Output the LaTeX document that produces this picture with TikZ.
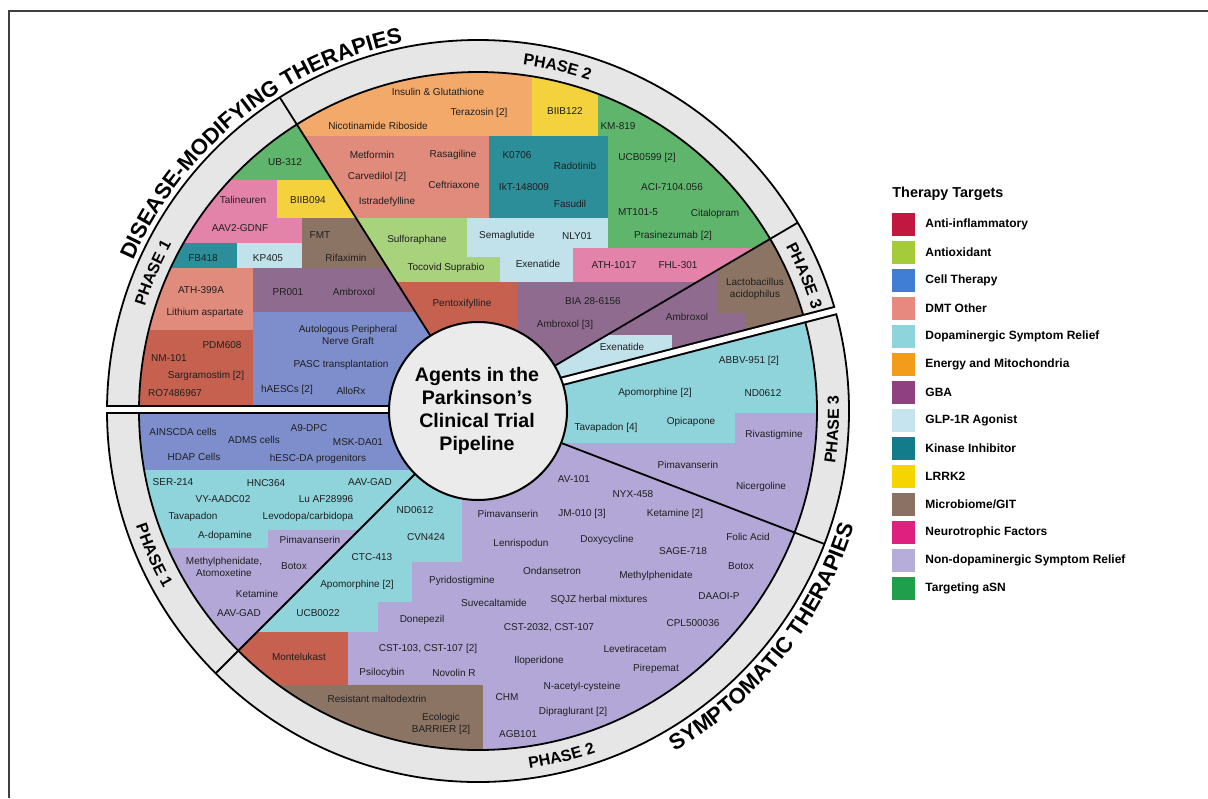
\documentclass[tikz,border=0pt]{standalone}
\usepackage{fontspec}
\setmainfont{Liberation Sans}
\usetikzlibrary{decorations.text}
\definecolor{cOrange}{HTML}{F2A96A}
\definecolor{cYellow}{HTML}{F3D23D}
\definecolor{cGreen}{HTML}{5EB56B}
\definecolor{cSalmon}{HTML}{E08B7C}
\definecolor{cTeal}{HTML}{2C8E99}
\definecolor{cLGreen}{HTML}{A9D27D}
\definecolor{cLBlue}{HTML}{C1E2EB}
\definecolor{cPink}{HTML}{E483AA}
\definecolor{cRed}{HTML}{C6614F}
\definecolor{cMauve}{HTML}{8F6C8F}
\definecolor{cBrown}{HTML}{8C7464}
\definecolor{cPeri}{HTML}{7E8ECC}
\definecolor{cCyan}{HTML}{8FD4DB}
\definecolor{cLav}{HTML}{B2A7D6}
\definecolor{cBand}{HTML}{E6E6E6}
\definecolor{cInner}{HTML}{EBEBEB}
\definecolor{lRed}{HTML}{C2183F}
\definecolor{lAntiox}{HTML}{A3CB3A}
\definecolor{lCell}{HTML}{3F7ED4}
\definecolor{lDMT}{HTML}{E8897F}
\definecolor{lDopa}{HTML}{8DD4DD}
\definecolor{lEnergy}{HTML}{F39C1C}
\definecolor{lGBA}{HTML}{8E4081}
\definecolor{lGLP}{HTML}{C5E4ED}
\definecolor{lKinase}{HTML}{127C8B}
\definecolor{lLRRK}{HTML}{F5D400}
\definecolor{lMicro}{HTML}{8B7163}
\definecolor{lNeuro}{HTML}{E0207F}
\definecolor{lNonDopa}{HTML}{B7ADDA}
\definecolor{lASN}{HTML}{1F9E4B}
\tikzset{
  lbl/.style={font=\fontsize{5}{6}\selectfont, inner sep=0pt, align=center, text=black!88},
  ln/.style={line width=0.9pt, black},
  leg/.style={font=\fontsize{6}{7}\selectfont\bfseries, anchor=west, inner sep=0pt},
  legbox/.style={minimum width=11.5pt, minimum height=11.5pt, inner sep=0pt, draw=none},
  phasetxt/.style={decorate, decoration={text along path, text align=center,
      text={|\fontsize{8}{9}\selectfont\bfseries|#1}}},
  bigtxt/.style={decorate, decoration={text along path, text align=center,
      text={|\fontsize{11}{13}\selectfont\bfseries|#1}}}
}
\begin{document}
\begin{tikzpicture}[x=0.5pt,y=-0.5pt]
\useasboundingbox (0,0) rectangle (1208,798);
% frame
\draw[line width=0.6pt, black!75] (9,798) -- (9,11) -- (1208,11);

\begin{scope}[shift={(478,411)}]
  \fill[cBand] (0,0) circle[radius=371];
  \begin{scope}
    \clip (0,0) circle[radius=339];
    % ---------- upper phase 1
    \begin{scope}
      \clip (0,-1) -- (-700,-1) -- (-700,-700) -- (-122.3:700) -- (0,0) -- cycle;
      \begin{scope}[shift={(-478,-411)}]
        \fill[cGreen] (80,0) rectangle (420,180);
        \fill[cPink] (80,180) rectangle (277,243);
        \fill[cPink] (277,218) rectangle (302,243);
        \fill[cYellow] (277,180) rectangle (420,218);
        \fill[cBrown] (302,218) rectangle (420,268);
        \fill[cTeal] (80,243) rectangle (237,268);
        \fill[cLBlue] (237,243) rectangle (302,268);
        \fill[cSalmon] (80,268) rectangle (253,330);
        \fill[cMauve] (253,268) rectangle (480,312);
        \fill[cPeri] (253,312) rectangle (480,420);
        \fill[cRed] (80,330) rectangle (253,420);
      \end{scope}
    \end{scope}
    % ---------- upper phase 2
    \begin{scope}
      \clip (0,0) -- (-122.3:700) -- (-374,-700) -- (700,-700) -- (-30.5:700) -- cycle;
      \begin{scope}[shift={(-478,-411)}]
        \fill[cMauve] (280,0) rectangle (860,420);
        \fill[cOrange] (280,0) rectangle (532,136);
        \fill[cYellow] (532,0) rectangle (598,136);
        \fill[cGreen] (598,0) rectangle (860,248);
        \fill[cSalmon] (280,136) rectangle (489,218);
        \fill[cTeal] (489,136) rectangle (608,218);
        \fill[cLGreen] (280,218) rectangle (467,257);
        \fill[cLGreen] (280,257) rectangle (500,282);
        \fill[cLBlue] (467,218) rectangle (608,248);
        \fill[cLBlue] (467,248) rectangle (573,257);
        \fill[cLBlue] (500,257) rectangle (573,282);
        \fill[cPink] (573,248) rectangle (860,282);
        \fill[cRed] (280,282) rectangle (518,420);
      \end{scope}
    \end{scope}
    % ---------- upper phase 3
    \begin{scope}
      \clip (0,0) -- (-30.5:700) -- (697,-188.3) -- (0,-8) -- cycle;
      \begin{scope}[shift={(-478,-411)}]
        \fill[cMauve] (480,200) rectangle (860,420);
        \fill[cBrown] (717,240) rectangle (860,313);
        \fill[cBrown] (745,313) rectangle (860,360);
        \fill[cLBlue] (540,335) rectangle (672,400);
      \end{scope}
    \end{scope}
    % ---------- lower phase 1
    \begin{scope}
      \clip (0,-1) -- (-700,-1) -- (-700,700) -- (135:700) -- (0,0) -- cycle;
      \begin{scope}[shift={(-478,-411)}]
        \fill[cLav] (80,400) rectangle (480,800);
        \fill[cPeri] (80,400) rectangle (480,470);
        \fill[cCyan] (80,470) rectangle (480,530);
        \fill[cCyan] (80,530) rectangle (268,548);
      \end{scope}
    \end{scope}
    % ---------- lower phase 2
    \begin{scope}
      \clip (0,0) -- (135:700) -- (0,700) -- (21:700) -- cycle;
      \begin{scope}[shift={(-478,-411)}]
        \fill[cLav] (80,400) rectangle (860,800);
        \fill[cCyan] (200,400) rectangle (462,562);
        \fill[cCyan] (200,562) rectangle (412,602);
        \fill[cCyan] (200,602) rectangle (378,632);
        \fill[cRed] (150,632) rectangle (348,685);
        \fill[cBrown] (150,685) rectangle (483,800);
      \end{scope}
    \end{scope}
    % ---------- lower phase 3
    \begin{scope}
      \clip (0,-8) -- (697,-188.3) -- (21:700) -- (0,0) -- cycle;
      \begin{scope}[shift={(-478,-411)}]
        \fill[cLav] (480,300) rectangle (860,800);
        \fill[cCyan] (480,300) rectangle (860,413);
        \fill[cCyan] (480,413) rectangle (735,443);
      \end{scope}
    \end{scope}
  \end{scope}
  % ring outlines
  \draw[ln] (0,0) circle[radius=339];
  \draw[ln] (0,0) circle[radius=371];
  % phase dividers
  \draw[ln] (-122.3:89) -- (-122.3:371);
  \draw[ln] (-30.5:89) -- (-30.5:371);
  \draw[ln] (135:89) -- (135:371);
  \draw[ln] (21:89) -- (21:371);
  % gaps between the two halves
  \draw[line width=4.75pt, black] (-80,-1.3) -- (-371,-1.3);
  \draw[line width=2.75pt, white] (-80,-1.3) -- (-385,-1.3);
  \draw[line width=4.75pt, black] (0,-8) -- ++(-14.5:368.9);
  \draw[line width=2.75pt, white] (0,-8) -- ++(-14.5:385);
  % centre
  \draw[line width=1pt, fill=cInner] (0,0) circle[radius=89];
  % ring labels
  \path[phasetxt={PHASE 2}] (-97:349) arc[start angle=-97, end angle=-57, radius=349];
  \path[phasetxt={PHASE 1}] (-177:349) arc[start angle=-177, end angle=-137, radius=349];
  \path[phasetxt={PHASE 3}] (-42.5:349) arc[start angle=-42.5, end angle=-2.5, radius=349];
  \path[phasetxt={PHASE 3}] (23:361) arc[start angle=23, end angle=-17, radius=361];
  \path[phasetxt={PHASE 2}] (96.4:361) arc[start angle=96.4, end angle=56.4, radius=361];
  \path[phasetxt={PHASE 1}] (176:361) arc[start angle=176, end angle=136, radius=361];
  \path[bigtxt={DISEASE-MODIFYING THERAPIES}] (-169:376) arc[start angle=-169, end angle=-89, radius=376];
  \path[bigtxt={SYMPTOMATIC THERAPIES}] (78.5:393) arc[start angle=78.5, end angle=-1.5, radius=393];
\end{scope}

\node[font=\fontsize{9.8}{11.5}\selectfont\bfseries, align=center, inner sep=0pt] (ctitle) at (477,411) {Agents in the\\Parkinson’s\\Clinical Trial\\Pipeline};

% ---------- upper phase 2 labels
\node[lbl] (u2a) at (438,92) {Insulin \& Glutathione};
\node[lbl] (u2b) at (479,113) {Terazosin [2]};
\node[lbl] (u2c) at (378,126) {Nicotinamide Riboside};
\node[lbl] (u2d) at (565,111) {BIIB122};
\node[lbl] (u2e) at (618,126) {KM-819};
\node[lbl] (u2f) at (372,155) {Metformin};
\node[lbl] (u2g) at (453,155) {Rasagiline};
\node[lbl] (u2h) at (377,177) {Carvedilol [2]};
\node[lbl] (u2i) at (454,185) {Ceftriaxone};
\node[lbl] (u2j) at (387,202) {Istradefylline};
\node[lbl] (u2k) at (517,155) {K0706};
\node[lbl] (u2l) at (575,166) {Radotinib};
\node[lbl] (u2m) at (524,187) {IkT-148009};
\node[lbl] (u2n) at (570,204) {Fasudil};
\node[lbl] (u2o) at (647,158) {UCB0599 [2]};
\node[lbl] (u2p) at (672,187) {ACI-7104.056};
\node[lbl] (u2q) at (638,212) {MT101-5};
\node[lbl] (u2r) at (715,214) {Citalopram};
\node[lbl] (u2s) at (673,236) {Prasinezumab [2]};
\node[lbl] (u2t) at (417,240) {Sulforaphane};
\node[lbl] (u2u) at (507,236) {Semaglutide};
\node[lbl] (u2v) at (577,236) {NLY01};
\node[lbl] (u2w) at (446,268) {Tocovid Suprabio};
\node[lbl] (u2x) at (538,264) {Exenatide};
\node[lbl] (u2y) at (614,265) {ATH-1017};
\node[lbl] (u2z) at (678,265) {FHL-301};
\node[lbl] (u2aa) at (462,304) {Pentoxifylline};
\node[lbl] (u2ab) at (593,301) {BIA 28-6156};
\node[lbl] (u2ac) at (565,325) {Ambroxol [3]};
% ---------- upper phase 3 labels
\node[lbl] (u3a) at (755,289) {Lactobacillus\\acidophilus};
\node[lbl] (u3b) at (687,317) {Ambroxol};
\node[lbl] (u3c) at (622,347) {Exenatide};
% ---------- upper phase 1 labels
\node[lbl] (u1a) at (285,162) {UB-312};
\node[lbl] (u1b) at (243,200) {Talineuren};
\node[lbl] (u1c) at (308,200) {BIIB094};
\node[lbl] (u1d) at (240,228) {AAV2-GDNF};
\node[lbl] (u1e) at (320,235) {FMT};
\node[lbl] (u1f) at (346,258) {Rifaximin};
\node[lbl] (u1g) at (203,258) {FB418};
\node[lbl] (u1h) at (268,258) {KP405};
\node[lbl] (u1i) at (201,290) {ATH-399A};
\node[lbl] (u1j) at (205,313) {Lithium aspartate};
\node[lbl] (u1k) at (288,292) {PR001};
\node[lbl] (u1l) at (354,292) {Ambroxol};
\node[lbl] (u1m) at (348,335) {Autologous Peripheral\\Nerve Graft};
\node[lbl] (u1n) at (341,365) {PASC transplantation};
\node[lbl] (u1o) at (287,390) {hAESCs [2]};
\node[lbl] (u1p) at (351,391) {AlloRx};
\node[lbl] (u1q) at (222,345) {PDM608};
\node[lbl] (u1r) at (169,358) {NM-101};
\node[lbl] (u1s) at (206,376) {Sargramostim [2]};
\node[lbl] (u1t) at (175,393) {RO7486967};
% ---------- lower phase 1 labels
\node[lbl] (l1a) at (183,432) {AINSCDA cells};
\node[lbl] (l1b) at (254,440) {ADMS cells};
\node[lbl] (l1c) at (309,428) {A9-DPC};
\node[lbl] (l1d) at (358,442) {MSK-DA01};
\node[lbl] (l1e) at (194,457) {HDAP Cells};
\node[lbl] (l1f) at (318,459) {hESC-DA progenitors};
\node[lbl] (l1g) at (173,482) {SER-214};
\node[lbl] (l1h) at (266,483) {HNC364};
\node[lbl] (l1i) at (370,482) {AAV-GAD};
\node[lbl] (l1j) at (223,499) {VY-AADC02};
\node[lbl] (l1k) at (326,499) {Lu AF28996};
\node[lbl] (l1l) at (193,517) {Tavapadon};
\node[lbl] (l1m) at (308,517) {Levodopa/carbidopa};
\node[lbl] (l1n) at (225,536) {A-dopamine};
\node[lbl] (l1o) at (310,540) {Pimavanserin};
\node[lbl] (l1p) at (224,567) {Methylphenidate,\\Atomoxetine};
\node[lbl] (l1q) at (294,566) {Botox};
\node[lbl] (l1r) at (257,594) {Ketamine};
\node[lbl] (l1s) at (239,613) {AAV-GAD};
% ---------- lower phase 2 labels
\node[lbl] (l2a) at (415,510) {ND0612};
\node[lbl] (l2b) at (426,537) {CVN424};
\node[lbl] (l2c) at (372,557) {CTC-413};
\node[lbl] (l2d) at (357,585) {Apomorphine [2]};
\node[lbl] (l2e) at (318,613) {UCB0022};
\node[lbl] (l2f) at (508,514) {Pimavanserin};
\node[lbl] (l2g) at (574,479) {AV-101};
\node[lbl] (l2h) at (633,494) {NYX-458};
\node[lbl] (l2i) at (582,514) {JM-010 [3]};
\node[lbl] (l2j) at (675,514) {Ketamine [2]};
\node[lbl] (l2k) at (521,544) {Lenrispodun};
\node[lbl] (l2l) at (607,540) {Doxycycline};
\node[lbl] (l2m) at (683,551) {SAGE-718};
\node[lbl] (l2n) at (748,537) {Folic Acid};
\node[lbl] (l2o) at (741,566) {Botox};
\node[lbl] (l2p) at (552,571) {Ondansetron};
\node[lbl] (l2q) at (656,576) {Methylphenidate};
\node[lbl] (l2r) at (462,581) {Pyridostigmine};
\node[lbl] (l2s) at (494,603) {Suvecaltamide};
\node[lbl] (l2t) at (599,600) {SQJZ herbal mixtures};
\node[lbl] (l2u) at (719,596) {DAAOI-P};
\node[lbl] (l2v) at (422,620) {Donepezil};
\node[lbl] (l2w) at (549,628) {CST-2032, CST-107};
\node[lbl] (l2x) at (693,623) {CPL500036};
\node[lbl] (l2y) at (428,649) {CST-103, CST-107 [2]};
\node[lbl] (l2z) at (635,649) {Levetiracetam};
\node[lbl] (l2aa) at (539,661) {Iloperidone};
\node[lbl] (l2ab) at (656,669) {Pirepemat};
\node[lbl] (l2ac) at (382,673) {Psilocybin};
\node[lbl] (l2ad) at (454,673) {Novolin R};
\node[lbl] (l2ae) at (582,687) {N-acetyl-cysteine};
\node[lbl] (l2af) at (507,697) {CHM};
\node[lbl] (l2ag) at (573,712) {Dipraglurant [2]};
\node[lbl] (l2ah) at (518,734) {AGB101};
\node[lbl] (l2ai) at (299,657) {Montelukast};
\node[lbl] (l2aj) at (377,699) {Resistant maltodextrin};
\node[lbl] (l2ak) at (441,724) {Ecologic\\BARRIER [2]};
% ---------- lower phase 3 labels
\node[lbl] (l3a) at (749,361) {ABBV-951 [2]};
\node[lbl] (l3b) at (655,393) {Apomorphine [2]};
\node[lbl] (l3c) at (763,393) {ND0612};
\node[lbl] (l3d) at (606,428) {Tavapadon [4]};
\node[lbl] (l3e) at (691,422) {Opicapone};
\node[lbl] (l3f) at (774,435) {Rivastigmine};
\node[lbl] (l3g) at (688,465) {Pimavanserin};
\node[lbl] (l3h) at (761,487) {Nicergoline};

% ---------- legend
\node[font=\fontsize{7.2}{8}\selectfont\bfseries, anchor=west, inner sep=0pt] (legtitle) at (892,194) {Therapy Targets};
\foreach \i/\c/\t in {0/lRed/{Anti-inflammatory},1/lAntiox/{Antioxidant},2/lCell/{Cell Therapy},
  3/lDMT/{DMT Other},4/lDopa/{Dopaminergic Symptom Relief},5/lEnergy/{Energy and Mitochondria},
  6/lGBA/{GBA},7/lGLP/{GLP-1R Agonist},8/lKinase/{Kinase Inhibitor},9/lLRRK/{LRRK2},
  10/lMicro/{Microbiome/GIT},11/lNeuro/{Neurotrophic Factors},
  12/lNonDopa/{Non-dopaminergic Symptom Relief},13/lASN/{Targeting aSN}}{
  \node[legbox, fill=\c] (lb\i) at (903.5,{224.7+28*\i}) {};
  \node[leg] (lt\i) at (925,{224.7+28*\i}) {\t};
}
\end{tikzpicture}
\end{document}
